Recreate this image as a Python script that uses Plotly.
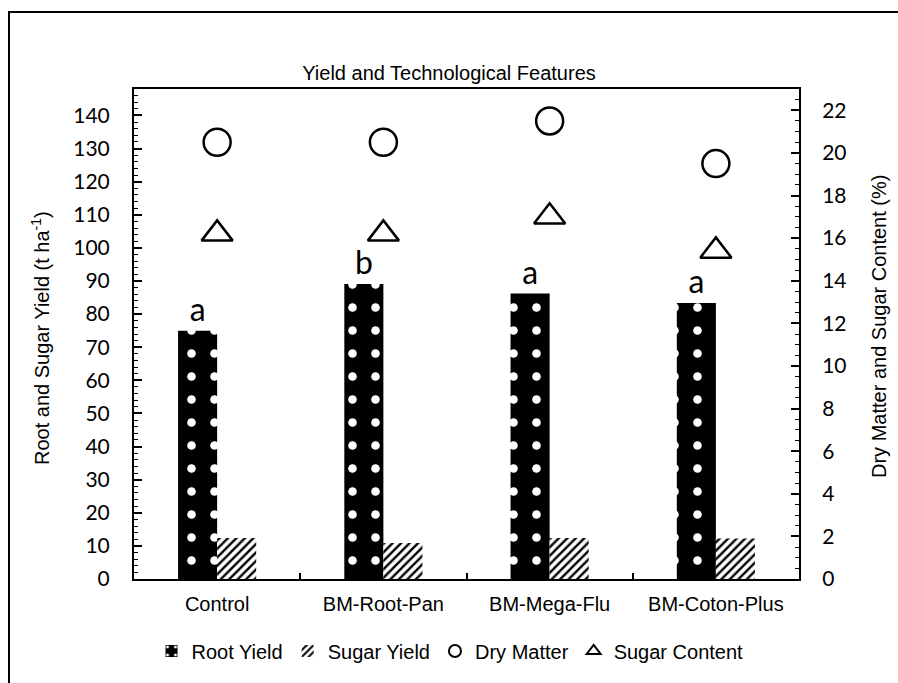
import plotly.graph_objects as go

categories = ["Control", "BM-Root-Pan", "BM-Mega-Flu", "BM-Coton-Plus"]
root_yield = [75.0, 89.1, 86.2, 83.4]
sugar_yield = [12.4, 10.9, 12.4, 12.2]
dry_matter = [20.5, 20.5, 21.5, 19.5]
sugar_content = [16.2, 16.2, 17.0, 15.4]
letters = ["a", "b", "a", "a"]

W, H = 898, 683
L, R, T, B = 134, 99, 89, 104
pw, ph = W - L - R, H - T - B

def px_x(x):
    return (x - L) / pw

def px_y(y):
    return (H - B - y) / ph

tick_font = dict(family="Lato, Carlito, sans-serif", size=21, color="black")
arial = "Liberation Sans, Arial, sans-serif"

fig = go.Figure()
fig.add_trace(go.Bar(
    x=categories, y=root_yield, name="Root Yield",
    marker=dict(color="black", line=dict(width=0),
                pattern=dict(shape=".", bgcolor="black", fgcolor="white",
                             fgopacity=1, size=23, solidity=0.11)),
    text=letters, textposition="outside", cliponaxis=False,
    textfont=dict(family="Lato, Carlito, sans-serif", size=32, color="black"),
))
fig.add_trace(go.Bar(
    x=categories, y=sugar_yield, name="Sugar Yield",
    marker=dict(color="white", line=dict(width=0),
                pattern=dict(shape="/", bgcolor="white", fgcolor="black",
                             fgopacity=1, size=6, solidity=0.4)),
))
fig.add_trace(go.Scatter(
    x=categories, y=dry_matter, name="Dry Matter", yaxis="y2", mode="markers",
    marker=dict(symbol="circle-open", size=27, color="black", line=dict(width=2.5, color="black")),
))
fig.add_trace(go.Scatter(
    x=categories, y=sugar_content, name="Sugar Content", yaxis="y2", mode="markers",
    marker=dict(symbol="triangle-up-open", size=27, color="black", line=dict(width=2.5, color="black")),
))

fig.update_layout(
    width=W, height=H,
    margin=dict(l=L, r=R, t=T, b=B, autoexpand=False),
    paper_bgcolor="white", plot_bgcolor="white",
    barmode="group", bargap=0.53, bargroupgap=0,
    showlegend=True,
    legend=dict(orientation="h", x=px_x(450), xanchor="center", y=px_y(651), yanchor="middle",
                font=dict(family=arial, size=20, color="black"),
                itemsizing="constant", itemwidth=30, traceorder="normal"),
    title=dict(text="Yield and Technological Features", x=0.5, xanchor="center",
               y=(H - 73) / H, yanchor="middle",
               font=dict(family=arial, size=20, color="black")),
    xaxis=dict(type="category", showline=True, linecolor="black", linewidth=2, mirror=True,
               ticks="inside", ticklen=6, tickcolor="black", tickwidth=1.5, tickson="boundaries",
               tickfont=dict(family=arial, size=20, color="black"), ticklabelstandoff=6,
               showgrid=False, zeroline=False, automargin=False),
    yaxis=dict(range=[0, 148], dtick=10, tick0=0, showline=True, linecolor="black", linewidth=2,
               ticks="inside", ticklen=8, tickwidth=1.5, tickcolor="black",
               minor=dict(ticks="inside", dtick=2, ticklen=4, tickcolor="black", tickwidth=1),
               tickfont=tick_font, ticklabelstandoff=18, showgrid=False, zeroline=False,
               automargin=False),
    yaxis2=dict(range=[0, 23], dtick=2, tick0=0, overlaying="y", side="right",
                showline=True, linecolor="black", linewidth=2,
                ticks="inside", ticklen=8, tickwidth=1.5, tickcolor="black",
                minor=dict(ticks="inside", dtick=0.5, ticklen=4, tickcolor="black", tickwidth=1),
                tickfont=tick_font, ticklabelstandoff=17, showgrid=False, zeroline=False,
                automargin=False),
)

fig.add_annotation(text="Root and Sugar Yield (t ha<sup>-1</sup>)", textangle=-90,
                   xref="paper", yref="paper", x=px_x(40), y=px_y(338),
                   xanchor="center", yanchor="middle", showarrow=False,
                   font=dict(family=arial, size=20, color="black"))
fig.add_annotation(text="Dry Matter and Sugar Content (%)", textangle=-90,
                   xref="paper", yref="paper", x=px_x(879), y=px_y(327),
                   xanchor="center", yanchor="middle", showarrow=False,
                   font=dict(family=arial, size=20, color="black"))

fig.add_shape(type="rect", xref="paper", yref="paper",
              x0=px_x(9), x1=px_x(910), y0=px_y(700), y1=px_y(12),
              line=dict(color="black", width=2), fillcolor="rgba(0,0,0,0)", layer="below")

fig.write_html("out.html", config={"displayModeBar": False},
               post_script="document.body.style.margin='0';document.body.style.overflow='hidden';")
